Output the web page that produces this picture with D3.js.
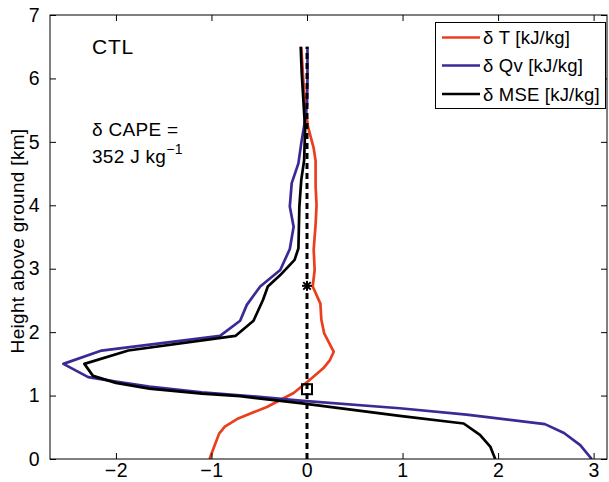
<!DOCTYPE html>
<html>
<head>
<meta charset="utf-8">
<script src="https://cdn.jsdelivr.net/npm/d3@7"></script>
<style>
html,body{margin:0;padding:0;background:#fff;}
svg{display:block;font-family:"Liberation Sans",Arial,sans-serif;}
</style>
</head>
<body>
<svg id="chart" width="609" height="482"></svg>
<script>
// ---- data ----
const xTicks = [-2, -1, 0, 1, 2, 3];
const yTicks = [0, 1, 2, 3, 4, 5, 6, 7];
const seriesNames = ["δ T [kJ/kg]", "δ Qv [kJ/kg]", "δ MSE [kJ/kg]"];

const tHeights = [0.0, 0.2, 0.4, 0.51, 0.64, 0.82, 1.04, 1.25, 1.43, 1.56, 1.69, 1.98, 2.2, 2.45, 2.72, 2.98, 3.3, 3.7, 4.0, 4.3, 4.7, 4.9, 5.24, 5.6, 6.0, 6.5];
const tValues  = [-1.02, -0.97, -0.92, -0.86, -0.72, -0.42, -0.14, 0.03, 0.17, 0.24, 0.28, 0.18, 0.15, 0.14, 0.06, 0.08, 0.07, 0.09, 0.10, 0.09, 0.09, 0.07, 0.01, -0.02, -0.04, -0.06];

const qvHeights = [0.0, 0.22, 0.41, 0.55, 0.70, 0.80, 0.92, 0.98, 1.05, 1.14, 1.22, 1.29, 1.50, 1.71, 1.94, 2.18, 2.43, 2.72, 2.98, 3.31, 3.66, 3.98, 4.35, 4.66, 4.98, 5.34, 5.6, 6.0, 6.5];
const qvValues  = [2.98, 2.86, 2.69, 2.49, 1.67, 0.97, -0.07, -0.5, -1.1, -1.65, -2.0, -2.29, -2.55, -2.15, -0.91, -0.70, -0.63, -0.49, -0.28, -0.18, -0.14, -0.18, -0.16, -0.09, -0.06, -0.02, 0.0, 0.005, 0.005];

const mseHeights = [0.0, 0.19, 0.38, 0.56, 0.68, 0.88, 0.99, 1.03, 1.11, 1.20, 1.31, 1.50, 1.71, 1.94, 2.18, 2.51, 2.72, 2.90, 3.14, 3.32, 3.98, 4.4, 4.71, 5.2, 5.71, 6.08, 6.5];
const mseValues  = [1.97, 1.92, 1.81, 1.64, 0.97, -0.07, -0.70, -1.1, -1.65, -2.0, -2.24, -2.33, -1.87, -0.75, -0.56, -0.46, -0.41, -0.28, -0.13, -0.09, -0.08, -0.06, -0.03, -0.02, -0.04, -0.055, -0.066];

const refHeights = [0, 6.5];
const starPoint = [0, 2.73];
const squarePoint = [0, 1.10];

// ---- layout ----
const M = {left: 50, right: 607, top: 15, bottom: 459};
const colors = ["#ea3f1f", "#3b2a96", "#000000"];

const svg = d3.select("#chart");
const x = d3.scaleLinear().domain([-2.69, 3.14]).range([M.left, M.right]);
const y = d3.scaleLinear().domain([0, 7]).range([M.bottom, M.top]);

svg.append("clipPath").attr("id", "clip").append("rect")
  .attr("x", M.left).attr("y", M.top).attr("width", M.right - M.left).attr("height", M.bottom - M.top);

const line = d3.line().x(d => x(d[0])).y(d => y(d[1]));
const zipS = (hs, vs) => hs.map((h, i) => [vs[i], h]);

const plot = svg.append("g").attr("clip-path", "url(#clip)");
const series = [zipS(tHeights, tValues), zipS(qvHeights, qvValues), zipS(mseHeights, mseValues)];
series.forEach((s, i) => {
  plot.append("path").attr("d", line(s)).attr("fill", "none")
    .attr("stroke", colors[i]).attr("stroke-width", 2.7).attr("stroke-linejoin", "round");
});

// dashed reference line
plot.append("path").attr("d", line(refHeights.map(h => [0, h])))
  .attr("fill", "none").attr("stroke", "#000").attr("stroke-width", 3)
  .attr("stroke-dasharray", "6,4");

// star marker
const sx = x(starPoint[0]), sy = y(starPoint[1]), r = 5;
const star = plot.append("g").attr("stroke", "#000").attr("stroke-width", 2);
star.append("line").attr("x1", sx - r).attr("x2", sx + r).attr("y1", sy).attr("y2", sy);
star.append("line").attr("x1", sx).attr("x2", sx).attr("y1", sy - r).attr("y2", sy + r);
star.append("line").attr("x1", sx - r*0.75).attr("x2", sx + r*0.75).attr("y1", sy - r*0.75).attr("y2", sy + r*0.75);
star.append("line").attr("x1", sx - r*0.75).attr("x2", sx + r*0.75).attr("y1", sy + r*0.75).attr("y2", sy - r*0.75);

// square marker
plot.append("rect").attr("x", x(squarePoint[0]) - 5).attr("y", y(squarePoint[1]) - 5)
  .attr("width", 10).attr("height", 10).attr("fill", "none").attr("stroke", "#000").attr("stroke-width", 2);

// ---- axes ----
const fmt = d => (d < 0 ? "\u2212" + Math.abs(d) : String(d));
const tickLen = 6;
const ax = svg.append("g").attr("stroke", "#000").attr("stroke-width", 1);
ax.append("rect").attr("x", M.left).attr("y", M.top).attr("width", M.right - M.left)
  .attr("height", M.bottom - M.top).attr("fill", "none");

const bottomAxis = d3.axisBottom(x).tickValues(xTicks).tickSize(-tickLen).tickPadding(4).tickFormat(fmt);
const topAxis = d3.axisTop(x).tickValues(xTicks).tickSize(-tickLen).tickFormat("");
const leftAxis = d3.axisLeft(y).tickValues(yTicks).tickSize(-tickLen).tickPadding(10).tickFormat(fmt);
const rightAxis = d3.axisRight(y).tickValues(yTicks).tickSize(-tickLen).tickFormat("");

function styleAxis(g) {
  g.select(".domain").remove();
  g.selectAll("line").attr("stroke", "#000");
  g.selectAll("text").attr("fill", "#000").style("font-size", "19.5px").style("letter-spacing", "0.5px")
    .style("font-family", "'Liberation Sans', Arial, sans-serif");
}
svg.append("g").attr("transform", `translate(0,${M.bottom})`).call(bottomAxis).call(styleAxis);
svg.append("g").attr("transform", `translate(0,${M.top})`).call(topAxis).call(styleAxis);
svg.append("g").attr("transform", `translate(${M.left},0)`).call(leftAxis).call(styleAxis);
svg.append("g").attr("transform", `translate(${M.right},0)`).call(rightAxis).call(styleAxis);

// y label
svg.append("text").attr("transform", `translate(24,${(M.top + M.bottom) / 2 + 4}) rotate(-90)`)
  .attr("text-anchor", "middle").style("font-size", "19px").style("letter-spacing", "0.3px")
  .text("Height above ground [km]");

// annotations
svg.append("text").attr("x", 92).attr("y", 54).style("font-size", "21px").style("letter-spacing", "0.8px").text("CTL");
svg.append("text").attr("x", 92).attr("y", 136).style("font-size", "19px").style("letter-spacing", "0.3px").text("δ CAPE =");
const cape = svg.append("text").attr("x", 92).attr("y", 163).style("font-size", "19px").style("letter-spacing", "0.3px");
cape.append("tspan").text("352 J kg");
cape.append("tspan").attr("dy", -9).style("font-size", "14px").text("\u22121");

// legend
const lg = svg.append("g");
lg.append("rect").attr("x", 435.5).attr("y", 22.5).attr("width", 170).attr("height", 86)
  .attr("fill", "#fff").attr("stroke", "#000").attr("stroke-width", 1);
const rowY = [37.5, 65.5, 94];
seriesNames.forEach((n, i) => {
  lg.append("line").attr("x1", 442).attr("x2", 480).attr("y1", rowY[i]).attr("y2", rowY[i])
    .attr("stroke", colors[i]).attr("stroke-width", 2.7);
  lg.append("text").attr("x", 483).attr("y", rowY[i] + 6.5).style("font-size", "18.5px")
    .style("letter-spacing", "0.2px").text(n);
});
</script>
</body>
</html>
